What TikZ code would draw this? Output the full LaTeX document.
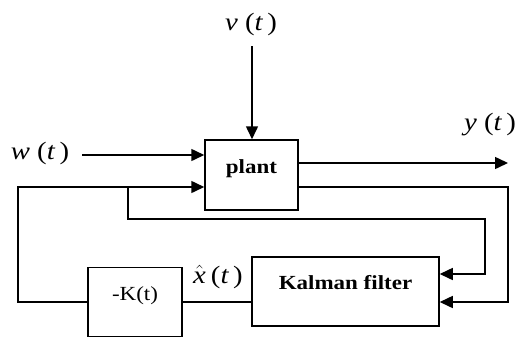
\documentclass[tikz,border=0pt]{standalone}
\usepackage{fontspec}
\setmainfont{Liberation Serif}[FakeStretch=1.15,
    BoldFont=Liberation Serif Bold,
    ItalicFont=Liberation Serif Italic]
\usetikzlibrary{arrows.meta,calc,positioning}
\tikzset{
    kf diagram/.style = {x=1pt, y=1pt, >={Triangle[length=13pt, width=12pt]}},
    line/.style       = {line width=1.5pt},
    block/.style      = {draw, line width=1.5pt, inner sep=0pt,
                         text height=14pt, text depth=18pt},
    bname/.style      = {font=\fontsize{20}{24}\selectfont\bfseries},
    gname/.style      = {font=\fontsize{20}{24}\selectfont},
    sig/.style        = {font=\fontsize{25}{30}\selectfont}
}
\def\fbrow{154}
\def\rightcol{508}
\def\tapcol{485}

\begin{document}
\begin{tikzpicture}[kf diagram]
\useasboundingbox (0,0) rectangle (518,341);

% ================= Blocks =================
\node[block, bname, minimum width=93, minimum height=70] (plant) at (251.5,166) {plant};
\node[block, bname, minimum width=187, minimum height=69] (kf) at (345.5,49.5) {Kalman filter};
\node[block, gname, minimum width=94, minimum height=69] (gain) at (135,39) {-K(t)};

% ================= Signal labels =================
\node[sig] (vlab) at (251,317) {\textit{v} (\textit{t}\,)};
\node[sig] (wlab) at (40,188) {\textit{w} (\textit{t}\,)};
\node[sig] (ylab) at (490,216) {\textit{y} (\textit{t}\,)};
\node[sig] (xlab) at (218,64) {$\hat{\textit{x}}$\hspace{5pt}(\textit{t}\,)};

% ================= Inputs and output =================
\coordinate (v0) at (252,295);
\draw[line,->] (v0) -- (v0 |- plant.north);
\coordinate (w0) at (82,186);
\draw[line,->] (w0) -- (w0 -| plant.west);
\coordinate (yout) at (\rightcol,178);
\draw[line,->] (yout -| plant.east) -- (yout);

% ================= Feedback loop =================
\coordinate (fb) at (18,\fbrow);
\coordinate (kfin1) at ($(kf.east)+(0,17.5)$);
\coordinate (kfin2) at (kf.east |- gain);
\draw[line] (gain.east) -- (gain.east -| kf.west);
\draw[line,->] (gain.west) -| (fb) -- (fb -| plant.west);

% Control signal tapped into the filter.
\coordinate (tap) at (128,\fbrow);
\draw[line,->] (tap) |- (\tapcol,122) |- (kfin1);

% Measured output into the filter.
\draw[line,->] (plant.east |- fb) -| (kfin2 -| yout) -- (kfin2);

\end{tikzpicture}
\end{document}
